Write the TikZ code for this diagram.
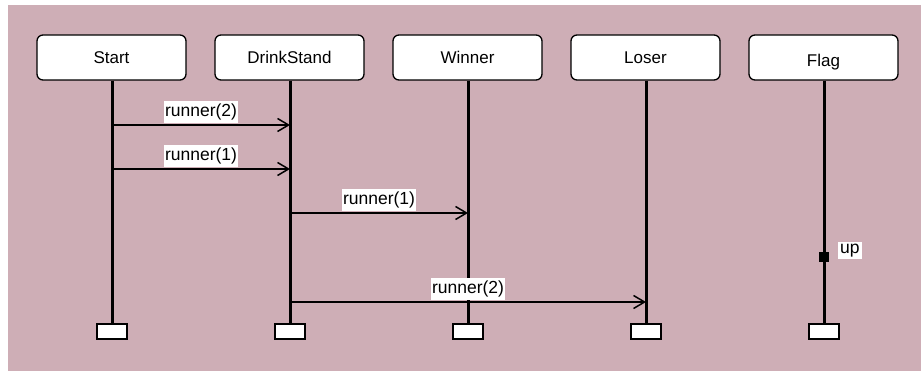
\documentclass[tikz,border=0pt]{standalone}
\usepackage{fontspec}
\setmainfont{Liberation Sans}
\usetikzlibrary{arrows.meta}
\definecolor{bgmauve}{RGB}{206,174,182}
\tikzset{
  head/.style={draw=black, fill=white, line width=1.3pt, rounded corners=6pt,
    minimum width=149pt, minimum height=45pt, inner sep=0pt,
    text height=13pt, text depth=0pt,
    font=\fontsize{17}{20}\selectfont},
  lifeline/.style={draw=black, line width=3pt},
  endbox/.style={draw=black, fill=white, line width=1.3pt,
    minimum width=30pt, minimum height=15pt, inner sep=0pt},
  msg/.style={draw=black, line width=1.3pt,
    -{Straight Barb[length=11pt,width=13pt,line width=1.5pt]}},
  msglabel/.style={fill=white, inner xsep=1.5pt, inner ysep=3pt, anchor=south,
    font=\fontsize{17.5}{20}\selectfont, yshift=1pt},
  actmark/.style={fill=black, minimum size=10pt, inner sep=0pt},
}
\begin{document}
\begin{tikzpicture}[x=1pt,y=-1pt]
\useasboundingbox (0,0) rectangle (921,371);
\fill[bgmauve] (8,5) rectangle (921,371);
% heads
\node[head] (Start) at (111.5,57.5) {Start};
\node[head] (DrinkStand) at (289.5,57.5) {DrinkStand};
\node[head] (Winner) at (467.5,57.5) {Winner};
\node[head] (Loser) at (645.5,57.5) {Loser};
\node[head] (Flag) at (823.5,57.5) {\raisebox{-3pt}{Flag}};
% end boxes
\node[endbox] (eStart) at (112,331.5) {};
\node[endbox] (eDrink) at (290,331.5) {};
\node[endbox] (eWinner) at (468,331.5) {};
\node[endbox] (eLoser) at (646,331.5) {};
\node[endbox] (eFlag) at (824,331.5) {};
% lifelines
\draw[lifeline] (Start.south -| eStart.north) -- (eStart.north);
\draw[lifeline] (DrinkStand.south -| eDrink.north) -- (eDrink.north);
\draw[lifeline] (Winner.south -| eWinner.north) -- (eWinner.north);
\draw[lifeline] (Loser.south -| eLoser.north) -- (eLoser.north);
\draw[lifeline] (Flag.south -| eFlag.north) -- (eFlag.north);
% message points
\coordinate (s1) at (112,125); \coordinate (d1) at (290,125);
\coordinate (s2) at (112,169); \coordinate (d2) at (290,169);
\coordinate (d3) at (290,213); \coordinate (w3) at (468,213);
\coordinate (d4) at (290,302); \coordinate (l4) at (646,302);
\draw[msg] (s1) -- node[msglabel] {runner(2)} (d1);
\draw[msg] (s2) -- node[msglabel] {runner(1)} (d2);
\draw[msg] (d3) -- node[msglabel] {runner(1)} (w3);
\draw[msg] (d4) -- node[msglabel] {runner(2)} (l4);
% flag event
\node[actmark] (upmark) at (824,257.5) {};
\node[fill=white, inner xsep=2pt, inner ysep=2pt, font=\fontsize{17.5}{20}\selectfont, anchor=south west] (uplabel) at (838,259) {up};
\end{tikzpicture}
\end{document}
